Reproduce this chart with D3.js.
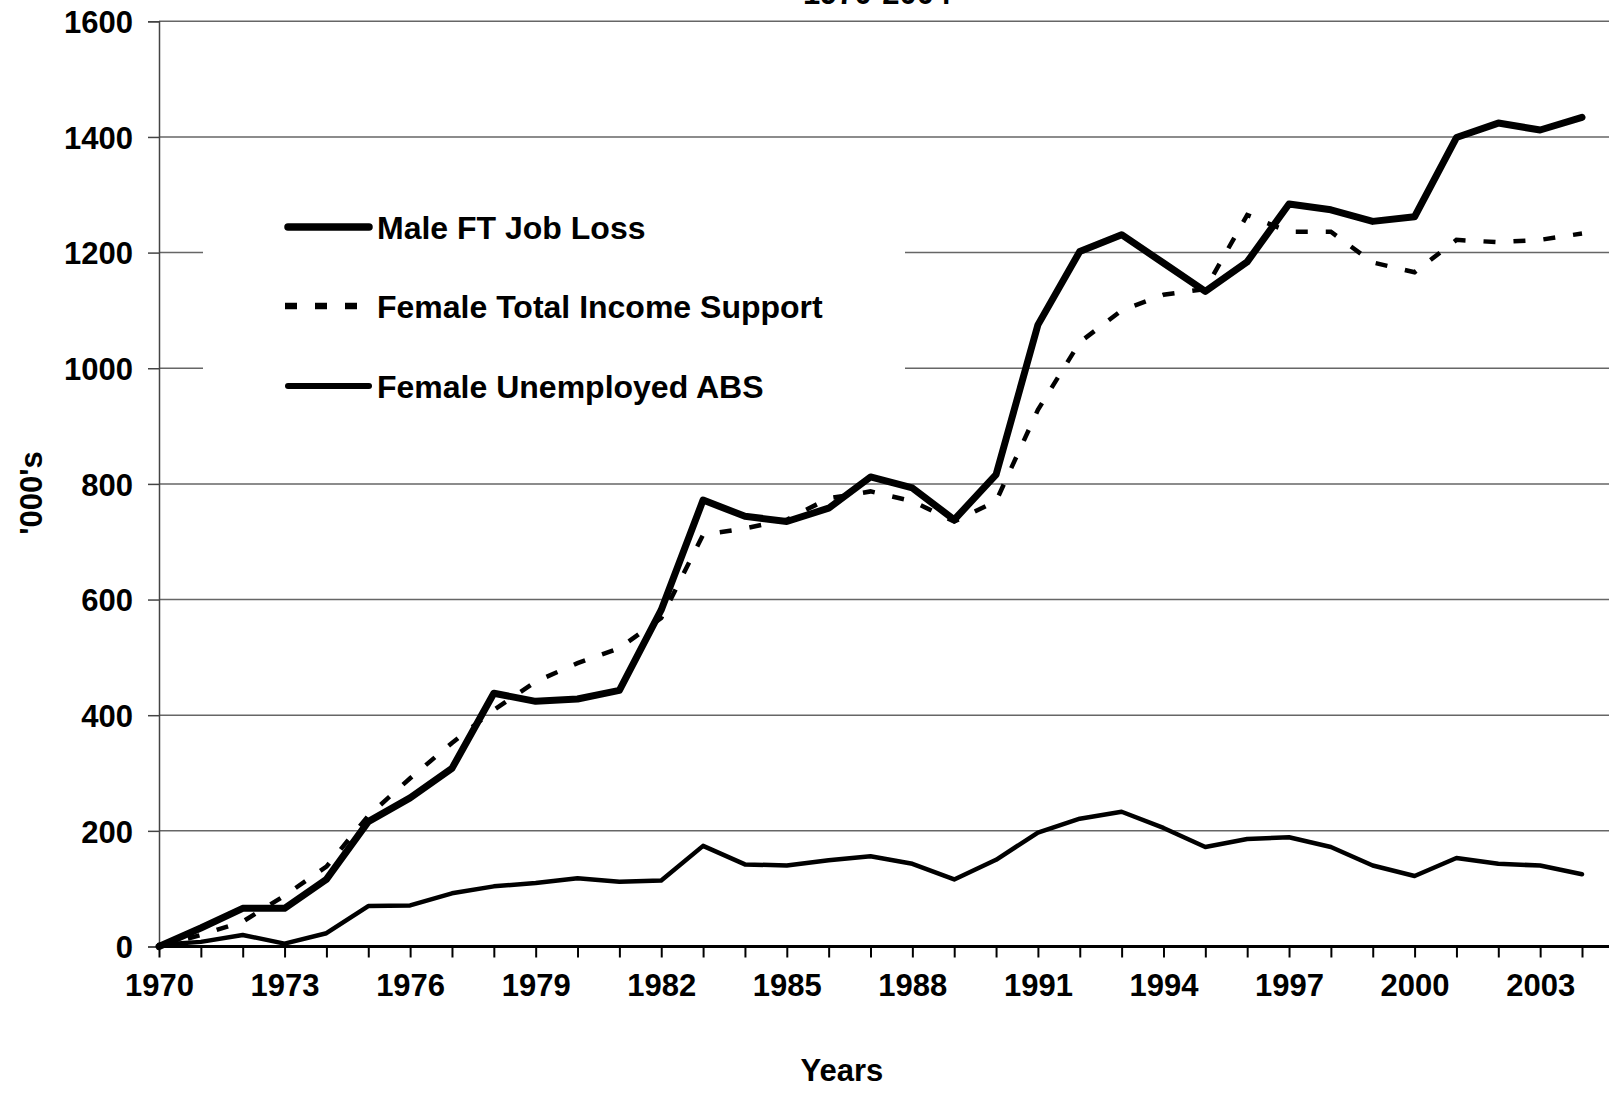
<!DOCTYPE html>
<html>
<head>
<meta charset="utf-8">
<script src="https://cdn.jsdelivr.net/npm/d3@7"></script>
<style>
  body { margin: 0; background: #fff; }
  svg text { font-family: "Liberation Sans", Arial, sans-serif; font-weight: bold; fill: #000; }
</style>
</head>
<body>
<div id="chart"></div>
<script>
// categories
var years = [1970, 1971, 1972, 1973, 1974, 1975, 1976, 1977, 1978, 1979,
             1980, 1981, 1982, 1983, 1984, 1985, 1986, 1987, 1988, 1989,
             1990, 1991, 1992, 1993, 1994, 1995, 1996, 1997, 1998, 1999,
             2000, 2001, 2002, 2003, 2004];
var yearLabels = [1970, 1973, 1976, 1979, 1982, 1985, 1988, 1991, 1994, 1997, 2000, 2003];
var yTicks = [0, 200, 400, 600, 800, 1000, 1200, 1400, 1600];

// series ('000s)
var maleFTJobLoss = [0, 32, 66, 66, 116, 216, 257, 308, 438, 424,
                     428, 443, 582, 772, 744, 735, 758, 812, 793, 738,
                     816, 1075, 1202, 1231, 1182, 1133, 1184, 1284, 1274, 1254,
                     1262, 1399, 1424, 1412, 1434];
var femaleIncomeSupport = [0, 20, 43, 88, 138, 226, 291, 352, 409, 458,
                           490, 516, 568, 712, 723, 738, 775, 787, 770, 735,
                           770, 928, 1045, 1100, 1127, 1137, 1265, 1236, 1236, 1183,
                           1166, 1222, 1218, 1222, 1233];
var femaleUnemployedABS = [3, 8, 20, 5, 23, 70, 71, 92, 104, 110,
                           118, 112, 114, 174, 142, 140, 149, 156, 143, 116,
                           150, 197, 221, 233, 205, 172, 186, 189, 172, 140,
                           122, 153, 143, 140, 125];

var seriesNames = ["Male FT Job Loss", "Female Total Income Support", "Female Unemployed ABS"];

var W = 1609, H = 1093;
var x0 = 159, y0 = 946.5, yTop = 21.3;

var svg = d3.select("#chart").append("svg")
    .attr("width", W)
    .attr("height", H);

// scales - one category step ~41.85px, the plot runs past the right edge
var xScale = d3.scaleLinear().domain([1970, 2004]).range([x0, 1582]);
var yScale = d3.scaleLinear().domain([0, 1600]).range([y0, yTop]);

// gridlines
svg.append("g")
    .selectAll("line")
    .data(yTicks.filter(function(d) { return d > 0; }))
  .enter().append("line")
    .attr("x1", x0)
    .attr("x2", W)
    .attr("y1", function(d) { return yScale(d); })
    .attr("y2", function(d) { return yScale(d); })
    .style("stroke", "#666")
    .style("stroke-width", 1.5);

// legend box covers the grid behind it
var legend = svg.append("g");
legend.append("rect")
    .attr("x", 203)
    .attr("y", 175)
    .attr("width", 702)
    .attr("height", 265)
    .style("fill", "#fff");

// y-axis
var yAxis = d3.axisLeft(yScale)
    .tickValues(yTicks)
    .tickSize(11)
    .tickPadding(15)
    .tickFormat(d3.format("d"));

var gy = svg.append("g")
    .attr("transform", "translate(" + x0 + ",0)")
    .call(yAxis);
gy.select(".domain").style("stroke", "#444").style("stroke-width", 1.5);
gy.selectAll(".tick line").style("stroke", "#444").style("stroke-width", 1.5);
gy.selectAll(".tick text")
    .style("font-size", "31px")
    .attr("dy", "0.36em");

// x-axis, tick on every year, label every third
var xAxis = d3.axisBottom(xScale)
    .tickValues(years)
    .tickSize(11)
    .tickPadding(16)
    .tickFormat(function(d) { return yearLabels.indexOf(d) >= 0 ? d : ""; });

var gx = svg.append("g")
    .attr("transform", "translate(0," + y0 + ")")
    .call(xAxis);
gx.select(".domain").remove();
gx.append("line")
    .attr("x1", x0)
    .attr("x2", W)
    .style("stroke", "#000")
    .style("stroke-width", 3);
gx.selectAll(".tick line").style("stroke", "#000").style("stroke-width", 2);
gx.selectAll(".tick text")
    .style("font-size", "31px")
    .attr("dy", "0.71em");

// lines
var line = function(vals) {
  return d3.line()
    .x(function(d, i) { return xScale(years[i]); })
    .y(function(d) { return yScale(d); })(vals);
};

svg.append("path")
    .attr("d", line(femaleUnemployedABS))
    .style("fill", "none")
    .style("stroke", "#000")
    .style("stroke-width", 4.5)
    .style("stroke-linejoin", "round")
    .style("stroke-linecap", "round");

svg.append("path")
    .attr("d", line(femaleIncomeSupport))
    .style("fill", "none")
    .style("stroke", "#000")
    .style("stroke-width", 4.5)
    .style("stroke-dasharray", "12,18");

svg.append("path")
    .attr("d", line(maleFTJobLoss))
    .style("fill", "none")
    .style("stroke", "#000")
    .style("stroke-width", 7)
    .style("stroke-linejoin", "round")
    .style("stroke-linecap", "round");

// legend entries
var legendRows = [
  {name: seriesNames[0], y: 227, width: 7.5, dash: null},
  {name: seriesNames[1], y: 306, width: 6.5, dash: "12,18"},
  {name: seriesNames[2], y: 386, width: 6, dash: null}
];

var lg = legend.selectAll(".legend-row")
    .data(legendRows)
  .enter().append("g")
    .attr("class", "legend-row")
    .attr("transform", function(d) { return "translate(0," + d.y + ")"; });

lg.append("line")
    .attr("x1", function(d) { return d.dash ? 285 : 288; })
    .attr("x2", 369)
    .style("stroke", "#000")
    .style("stroke-width", function(d) { return d.width; })
    .style("stroke-linecap", function(d) { return d.dash ? "butt" : "round"; })
    .style("stroke-dasharray", function(d) { return d.dash; });

lg.append("text")
    .attr("x", 377)
    .attr("y", 12)
    .style("font-size", "32px")
    .text(function(d) { return d.name; });

// axis titles
svg.append("text")
    .attr("transform", "translate(42,493) rotate(-90)")
    .style("text-anchor", "middle")
    .style("font-size", "31px")
    .text("'000's");

svg.append("text")
    .attr("x", 842)
    .attr("y", 1081)
    .style("text-anchor", "middle")
    .style("font-size", "31px")
    .text("Years");

// chart title, mostly above the visible area as in the source
svg.append("text")
    .attr("x", 877)
    .attr("y", 4)
    .style("text-anchor", "middle")
    .style("font-size", "31px")
    .text("1970-2004");
</script>
</body>
</html>
